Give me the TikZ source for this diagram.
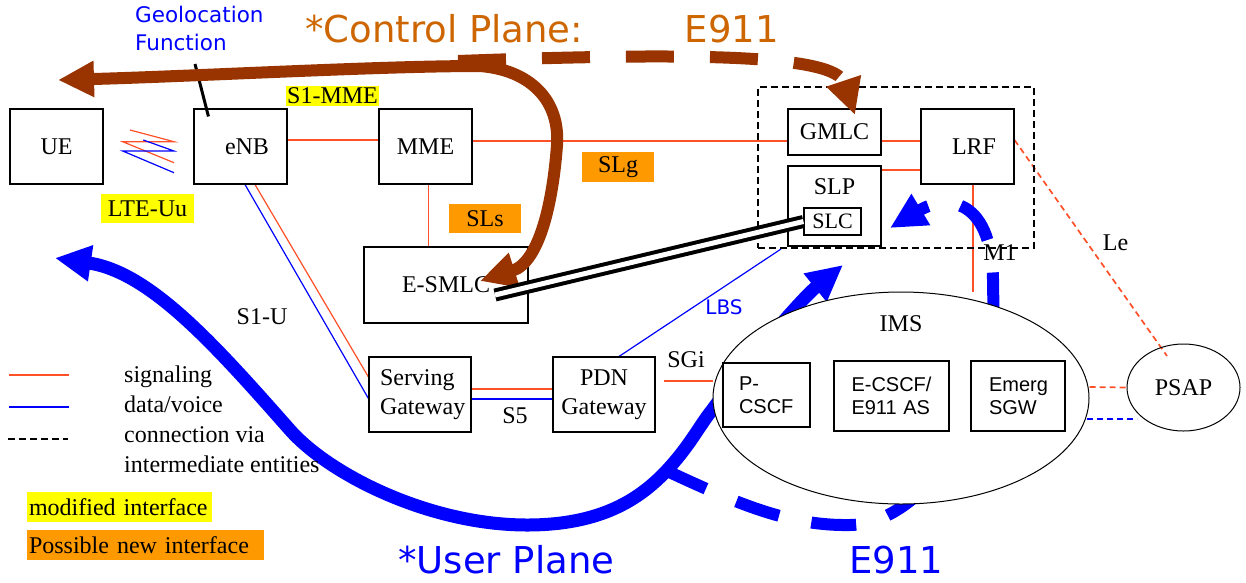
\documentclass[tikz,border=0pt]{standalone}
\usepackage{fontspec}
\setmainfont{Liberation Serif}
\setsansfont{Liberation Sans}
\newfontfamily\headfont{DejaVu Sans}
\usetikzlibrary{arrows.meta,shapes.geometric}

\definecolor{sigred}{RGB}{255,80,40}
\definecolor{cpbrown}{RGB}{153,51,0}
\definecolor{cporange}{RGB}{205,102,0}
\definecolor{modyellow}{RGB}{255,255,0}
\definecolor{neworange}{RGB}{255,153,0}

\pgfdeclarelayer{background}
\pgfsetlayers{background,main}

\tikzset{
  box/.style={draw,line width=1.1pt,minimum width=93pt,minimum height=75pt,inner sep=0pt,font=\fontsize{24}{29}\selectfont},
  imsbox/.style={draw,fill=white,line width=1.1pt,minimum height=70pt,inner sep=0pt,align=left,font=\sffamily\fontsize{20}{23.5}\selectfont},
  lbl/.style={inner sep=0pt,font=\fontsize{24}{30}\selectfont},
  modif/.style={lbl,fill=modyellow},
  newitf/.style={lbl,fill=neworange},
  sig/.style={sigred,line width=1.2pt},
  dat/.style={blue,line width=1.2pt},
  viadash/.style={dash pattern=on 6pt off 4pt,line width=1.7pt},
  cpflow/.style={cpbrown,line width=12pt},
  upflow/.style={blue,line width=13pt},
  bigtip/.tip={Triangle[length=36pt,width=34pt]},
}

\begin{document}
\begin{tikzpicture}[x=1pt,y=-1pt]
\useasboundingbox (0,0) rectangle (1246,582);

\path
  (56.5,146.5) node[box] (ue) {UE}
  (240.5,146.5) node[box] (enb) {\hspace*{13pt}eNB}
  (425.5,146.5) node[box] (mme) {MME}
  (834.5,132) node[box,minimum height=46pt] (gmlc) {GMLC}
  (967.5,146.5) node[box] (lrf) {\hspace*{13pt}LRF}
  (834.5,206) node[box,minimum height=80pt,label={[lbl,anchor=north,yshift=-13pt]north:SLP}] (slp) {}
  (832.5,221.5) node[box,minimum width=57pt,minimum height=27pt,font=\fontsize{22}{26}\selectfont] (slc) {SLC}
  (896,167.5) node[draw,dash pattern=on 7pt off 4pt,line width=2pt,minimum width=276pt,minimum height=161pt] (lcs) {}
  (446,285) node[box,minimum width=164pt,minimum height=76pt] (esmlc) {E-SMLC}
  (420,394.5) node[box,minimum width=102pt,text width=80pt,align=left] (sgw) {Serving\\Gateway}
  (604,394.5) node[box,minimum width=102pt,align=center] (pdn) {PDN\\Gateway}
  (901,398) node[ellipse,draw,fill=white,line width=1pt,minimum width=376pt,minimum height=212pt,inner sep=0pt,
                 label={[lbl,anchor=north,yshift=-24pt]north:IMS}] (ims) {}
  (766.5,395) node[imsbox,minimum width=87pt,minimum height=64pt,text width=55pt] (pcscf) {P-\\CSCF}
  (891.5,396) node[imsbox,minimum width=115pt,text width=80pt] (ecscf) {E-CSCF/\\E911 AS}
  (1018,396) node[imsbox,minimum width=94pt,text width=58pt] (esgw) {Emerg\\SGW}
  (1183.5,387.5) node[ellipse,draw,line width=1pt,minimum width=113pt,minimum height=87pt,inner sep=0pt,
                 font=\fontsize{24}{29}\selectfont] (psap) {PSAP};

\coordinate (upue) at (55,258);
\coordinate (upslp) at (843,265);
\coordinate (upfork) at (665,470);
\coordinate (upslc) at (890,228);
\coordinate (cpue) at (58,80);
\coordinate (cpsmlc) at (480,281);
\coordinate (cpfork) at (458,61);
\coordinate (cpgmlc) at (855,115);
\coordinate (geo) at (195,64);

\begin{pgfonlayer}{background}
  \draw[sig] ([yshift=6.5pt]enb.east) -- ([yshift=6.5pt]mme.west);
  \draw[sig] ([yshift=5.5pt]mme.east) -- ([yshift=-9pt]gmlc.west);
  \draw[sig] ([yshift=-9pt]gmlc.east) -- ([yshift=5.5pt]lrf.west);
  \draw[sig] ([yshift=36pt]slp.east) -- ([yshift=-23.5pt]lrf.west);
  \draw[sig] ([xshift=3pt]mme.south) -- ([xshift=-17.5pt]esmlc.north);
  \draw[sig] ([xshift=14.5pt]enb.south) -- ([yshift=17.5pt]sgw.west);
  \draw[dat] ([xshift=4.5pt]enb.south) -- ([yshift=-4pt]sgw.west);
  \draw[sig] ([yshift=5.5pt]sgw.east) -- ([yshift=5.5pt]pdn.west);
  \draw[dat] ([yshift=-4.5pt]sgw.east) -- ([yshift=-4.5pt]pdn.west);
  \draw[dat] ([xshift=15pt]pdn.north) -- ([xshift=24pt]lcs.south west);
  \draw[sig] ([shift={(8,-13.5)}]pdn.east) -- ([yshift=17pt]ims.west);
  \draw[sig] ([xshift=5.5pt]lrf.south) -- ([xshift=5.5pt]lrf.south |- ims.north);
  \draw[sig,viadash] ([yshift=6.5pt]lrf.east) -- ([shift={(-16.5,-31.5)}]psap.center);
  \draw[sig,viadash] ([yshift=11pt]ims.east) -- (psap.west);
  \draw[dat,viadash] ([shift={(-3,21)}]ims.east) -- ([shift={(10,31.5)}]psap.west);

  % user plane path
  \draw[upflow,bigtip-bigtip] (upue) .. controls (150,272) and (215,345) .. (290,430)
    .. controls (330,475) and (430,525) .. (527,525)
    .. controls (600,525) and (640,500) .. (669,468)
    .. controls (690,445) and (700,425) .. (712,410)
    .. controls (745,365) and (800,300) .. (upslp);
  \draw[upflow,line width=12pt,dash pattern=on 45pt off 33pt,-bigtip] (upfork)
    .. controls (740,505) and (790,526) .. (850,525)
    .. controls (920,524) and (1000,420) .. (993,290)
    .. controls (995,195) and (945,195) .. (upslc);
\end{pgfonlayer}

% radio link
\draw[sig] (130,130) -- (174,141.7) -- (122.7,141.7) -- (174,162.7);
\draw[dat] (143.3,140) -- (174,151) -- (122.7,151) -- (174,172.7);

\draw[line width=3pt] ([shift={(15,8)}]enb.north west) -- (geo);

% control plane path
\draw[cpflow,bigtip-bigtip] (cpue) .. controls (200,76) and (380,66) .. (480,66)
  .. controls (530,70) and (560,100) .. (557,145)
  .. controls (553,200) and (540,262) .. (cpsmlc);
\draw[cpflow,dash pattern=on 48pt off 36pt,-bigtip] (cpfork) .. controls (700,52) and (835,55) .. (cpgmlc);

\draw[line width=4pt,double,double distance=5pt] ([shift={(49,10)}]esmlc.center) -- (slc.west);

\node[modif,minimum width=93pt,minimum height=20pt] (s1mme) at (332.5,96) {S1-MME};
\node[modif,minimum width=93pt,minimum height=29pt] (lteuu) at (147.5,208.5) {LTE-Uu};
\node[newitf,minimum width=72pt,minimum height=30pt] (slg) at (618,167) {SLg};
\node[newitf,minimum width=72pt,minimum height=29pt] (sls) at (485,218.5) {SLs};
\node[lbl] (s1u) at (262,317) {S1-U};
\node[lbl] (s5) at (515,416) {S5};
\node[lbl] (sgi) at (686,360) {SGi};
\node[lbl] (m1) at (1000,253) {M1};
\node[lbl] (le) at (1115.5,243) {Le};
\node[inner sep=0pt,blue,font=\headfont\fontsize{20}{24}\selectfont] (lbs) at (724,307.5) {LBS};
\node[anchor=north west,inner sep=0pt,align=left,blue,font=\headfont\fontsize{21.5}{28}\selectfont] (geolbl) at (135,6) {Geolocation\\Function};

\node[anchor=base west,inner sep=0pt,cporange,font=\headfont\fontsize{37}{44}\selectfont] (cptitle) at (305,42) {*Control Plane:\hspace{2.75em}E911};
\node[anchor=base west,inner sep=0pt,blue,font=\headfont\fontsize{37}{44}\selectfont] (uptitle) at (398,573) {*User Plane};
\node[anchor=base west,inner sep=0pt,blue,font=\headfont\fontsize{37}{44}\selectfont] (upe911) at (849,573) {E911};

% legend
\draw[sig] (9,375) -- (69,375);
\draw[dat] (9,407) -- (69,407);
\draw[dash pattern=on 7pt off 4pt,line width=2pt] (8,439) -- (68,439);
\node[lbl,anchor=north west,align=left] (legtxt) at (124,366) {signaling\\data/voice\\connection via\\intermediate entities};
\node[modif,text width=181pt,align=left,inner xsep=2pt,minimum height=30pt] (modlbl) at (119.5,507) {modified interface};
\node[newitf,text width=233pt,align=left,inner xsep=2pt,minimum height=30pt] (newlbl) at (145.5,545) {Possible new interface};
\end{tikzpicture}
\end{document}
